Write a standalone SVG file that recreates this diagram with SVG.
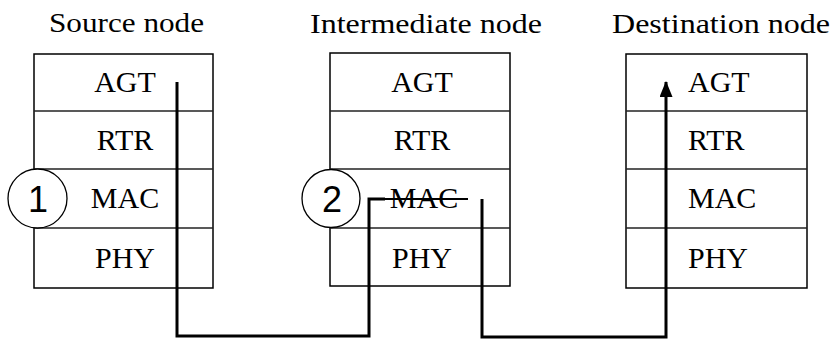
<svg xmlns="http://www.w3.org/2000/svg" width="835" height="341" viewBox="0 0 835 341">
<style>
.box{fill:#fff;stroke:#000;stroke-width:1.5}
.div{stroke:#222;stroke-width:1.5}
.serif{font-family:'Liberation Serif','DejaVu Serif','Times New Roman',Times,serif}
.sans{font-family:'Liberation Sans',Arial,Helvetica,sans-serif}
text.t{font-size:30px;fill:#000}
text.title{font-size:27px;fill:#000}
.circ{fill:#fff;stroke:#000;stroke-width:1.3}
text.num{font-size:36px;fill:#000;text-anchor:middle}
.conn{fill:none;stroke:#000;stroke-width:3;stroke-linejoin:miter}
</style>
<defs>
<marker id="arr" markerWidth="16" markerHeight="13" refX="15" refY="6.5" orient="auto" markerUnits="userSpaceOnUse" viewBox="0 0 16 13">
<path d="M0,0 L16,6.5 L0,13 Z" fill="#000"/>
</marker>
</defs>
<rect width="835" height="341" fill="#fff"/>

<g id="source">
<text class="title serif" x="49" y="32" textLength="155" lengthAdjust="spacingAndGlyphs">Source node</text>
<rect class="box" x="34" y="54" width="179" height="234"/>
<line class="div" x1="34" y1="111" x2="213" y2="111"/>
<line class="div" x1="34" y1="169" x2="213" y2="169"/>
<line class="div" x1="34" y1="228" x2="213" y2="228"/>
<text class="t serif" x="125" y="92" text-anchor="middle">AGT</text>
<text class="t serif" x="125" y="150" text-anchor="middle">RTR</text>
<text class="t serif" x="125" y="208" text-anchor="middle">MAC</text>
<text class="t serif" x="125" y="268" text-anchor="middle">PHY</text>
<circle class="circ" cx="37.5" cy="198.5" r="29.5"/>
<text class="num sans" x="38" y="212">1</text>
</g>

<g id="intermediate">
<text class="title serif" x="310" y="33" textLength="232" lengthAdjust="spacingAndGlyphs">Intermediate node</text>
<rect class="box" x="330" y="53" width="180" height="233"/>
<line class="div" x1="330" y1="111" x2="510" y2="111"/>
<line class="div" x1="330" y1="169" x2="510" y2="169"/>
<line class="div" x1="330" y1="228" x2="510" y2="228"/>
<text class="t serif" x="422" y="92" text-anchor="middle">AGT</text>
<text class="t serif" x="422" y="150" text-anchor="middle">RTR</text>
<text class="t serif" x="424" y="208" text-anchor="middle">MAC</text>
<text class="t serif" x="422" y="268" text-anchor="middle">PHY</text>
<circle class="circ" cx="331" cy="198.5" r="29"/>
<text class="num sans" x="332" y="212">2</text>
</g>

<g id="destination">
<text class="title serif" x="612" y="33" textLength="218" lengthAdjust="spacingAndGlyphs">Destination node</text>
<rect class="box" x="626" y="54" width="181" height="234"/>
<line class="div" x1="626" y1="111" x2="807" y2="111"/>
<line class="div" x1="626" y1="169" x2="807" y2="169"/>
<line class="div" x1="626" y1="228" x2="807" y2="228"/>
<text class="t serif" x="688" y="92">AGT</text>
<text class="t serif" x="688" y="150">RTR</text>
<text class="t serif" x="688" y="208">MAC</text>
<text class="t serif" x="688" y="268">PHY</text>
</g>

<g id="connectors">
<path class="conn" d="M177,82 V336 H369 V199 H385"/>
<line x1="385" y1="199" x2="468" y2="199" stroke="#000" stroke-width="2"/>
<path class="conn" d="M482,199 V337 H666 V82" marker-end="url(#arr)"/>
</g>
</svg>
